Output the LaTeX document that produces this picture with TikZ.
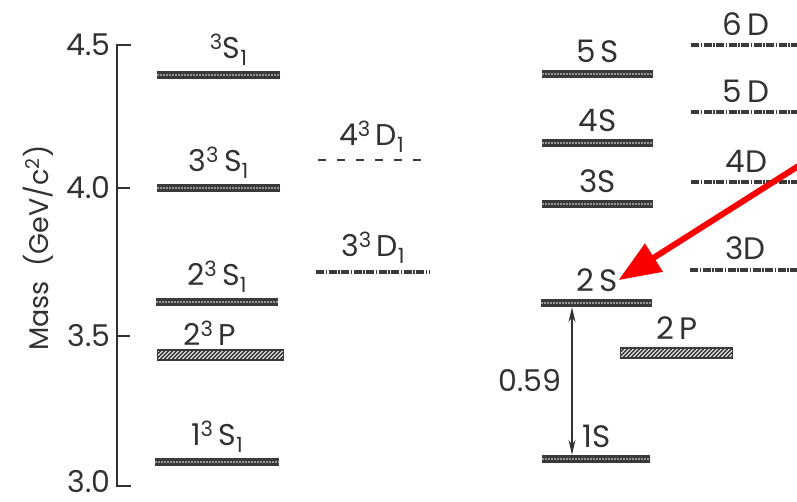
\documentclass[tikz,border=0pt]{standalone}
\usepackage{fontspec}
\setmainfont{Poppins}
\usetikzlibrary{arrows.meta,positioning}
\definecolor{levelDark}{RGB}{58,58,58}
\definecolor{levelLight}{RGB}{150,150,150}
\definecolor{inkGray}{RGB}{50,50,50}
\definecolor{arrowRed}{RGB}{250,0,0}

\tikzset{
  sLevel/.style={rectangle, inner sep=0pt, minimum height=8pt, fill=levelDark,
    path picture={\draw[levelLight, line width=1.4pt, dash pattern=on 2pt off 1pt]
      (path picture bounding box.west) -- (path picture bounding box.east);}},
  pLevel/.style={rectangle, inner sep=0pt, minimum height=10pt, draw=levelDark,
    line width=1.2pt,
    path picture={\foreach \k in {0,...,34}
      \draw[levelDark, line width=1.6pt]
        ([xshift=\k*4pt-10pt]path picture bounding box.south west) -- ++(12pt,12pt);}},
  dLevel/.style={rectangle, inner sep=0pt, minimum height=5pt,
    path picture={\draw[levelDark, line width=4.5pt,
      dash pattern=on 8pt off 1.5pt on 1.5pt off 1.5pt]
      (path picture bounding box.west) -- (path picture bounding box.east);}},
  dashLevel/.style={rectangle, inner sep=0pt, minimum height=2pt,
    path picture={\draw[levelDark, line width=2pt, dash pattern=on 8pt off 11pt]
      (path picture bounding box.west) -- (path picture bounding box.east);}},
  leftLab/.style={inner sep=0pt, text=inkGray, font=\fontsize{30}{32}\selectfont},
  rightLab/.style={inner sep=0pt, text=inkGray, font=\fontsize{31}{33}\selectfont},
  tickLab/.style={inner sep=0pt, text=inkGray, font=\fontsize{30}{32}\selectfont}
}

\begin{document}
\begin{tikzpicture}[x=1pt, y=-1pt]
  \useasboundingbox (0,0) rectangle (797,502);

  % mass axis
  \coordinate (t45) at (117,45);
  \coordinate (t40) at (117,188);
  \coordinate (t35) at (117,336);
  \coordinate (t30) at (117,486);
  \draw[inkGray, line width=2pt] ([xshift=14pt]t45) -- (t45) -- (t30) -- ([xshift=14pt]t30);
  \draw[inkGray, line width=2pt] (t40) -- ([xshift=13pt]t40);
  \draw[inkGray, line width=2pt] (t35) -- ([xshift=13pt]t35);
  \node[tickLab, left=6pt of t45] (t45Lab) {4.5};
  \node[tickLab, left=6pt of t40] (t40Lab) {4.0};
  \node[tickLab, left=6pt of t35] (t35Lab) {3.5};
  \node[tickLab, left=6pt of t30, yshift=4pt] (t30Lab) {3.0};
  \node[tickLab, rotate=90, font=\fontsize{27}{29}\selectfont] (massLab) at (38,248)
    {Mass\ \ (GeV/c\textsuperscript{2})};

  % charmonium levels
  \node[sLevel, minimum width=123pt, anchor=west] (c3) at (157,75) {};
  \node[sLevel, minimum width=123pt, anchor=west] (c2) at (157,188) {};
  \node[sLevel, minimum width=122pt, anchor=west] (c1) at (156,302) {};
  \node[pLevel, minimum width=126pt, anchor=west] (cP) at (157,355) {};
  \node[sLevel, minimum width=124pt, anchor=west] (c0) at (155,462) {};
  \node[dashLevel, minimum width=107pt, anchor=west] (cD4) at (318,160) {};
  \node[dLevel, minimum width=114pt, anchor=west] (cD3) at (316,272) {};

  \node[leftLab, above=5pt of c3, xshift=10pt] (c3Lab) {\textsuperscript{3}S\textsubscript{1}};
  \node[leftLab, above=5pt of c2] (c2Lab) {3\textsuperscript{3}\,S\textsubscript{1}};
  \node[leftLab, above=5pt of c1] (c1Lab) {2\textsuperscript{3}\,S\textsubscript{1}};
  \node[leftLab, above=4pt of cP, xshift=-11pt] (cPLab) {2\textsuperscript{3}\,P};
  \node[leftLab, above=5pt of c0] (c0Lab) {1\textsuperscript{3}\,S\textsubscript{1}};
  \node[leftLab, above=6pt of cD4] (cD4Lab) {4\textsuperscript{3}\,D\textsubscript{1}};
  \node[leftLab, above=6pt of cD3] (cD3Lab) {3\textsuperscript{3}\,D\textsubscript{1}};

  % generic levels
  \node[sLevel, minimum width=111pt, anchor=west] (s5) at (542,74) {};
  \node[sLevel, minimum width=111pt, anchor=west] (s4) at (542,143) {};
  \node[sLevel, minimum width=111pt, anchor=west] (s3) at (542,204) {};
  \node[sLevel, minimum width=111pt, anchor=west] (s2) at (541,303) {};
  \node[sLevel, minimum width=108pt, anchor=west] (s1) at (542,459) {};
  \node[pLevel, minimum width=112pt, anchor=west] (p2) at (620,353) {};
  \node[dLevel, minimum width=110pt, anchor=west] (d6) at (691,45) {};
  \node[dLevel, minimum width=110pt, anchor=west] (d5) at (691,112) {};
  \node[dLevel, minimum width=110pt, anchor=west] (d4) at (691,182) {};
  \node[dLevel, minimum width=110pt, anchor=west] (d3) at (690,270) {};

  \node[rightLab, above=7pt of s5] (s5Lab) {5\,S};
  \node[rightLab, above=7pt of s4] (s4Lab) {4S};
  \node[rightLab, above=7pt of s3] (s3Lab) {3S};
  \node[rightLab, above=7pt of s2] (s2Lab) {2\,S};
  \node[rightLab, above=7pt of s1] (s1Lab) {1S};
  \node[rightLab, above=8pt of p2] (p2Lab) {2\,P};
  \node[rightLab, above=7pt of d6] (d6Lab) {6\,D};
  \node[rightLab, above=7pt of d5] (d5Lab) {5\,D};
  \node[rightLab, above=7pt of d4] (d4Lab) {4D};
  \node[rightLab, above=7pt of d3] (d3Lab) {3D};

  % 2S-1S gap
  \draw[inkGray, line width=1.3pt, {Stealth[length=15pt, width=7pt]}-{Stealth[length=15pt, width=7pt]}]
    ([xshift=31pt]s2.south west) -- ([xshift=30pt]s1.north west)
    node[tickLab, midway, left=10pt] (gapLab) {0.59};

  % pointer
  \coordinate (redTail) at (800,165);
  \draw[arrowRed, line width=6pt, -{Triangle[length=42pt, width=32pt]}]
    (redTail) -- ([xshift=1pt]s2Lab.east);
\end{tikzpicture}
\end{document}
